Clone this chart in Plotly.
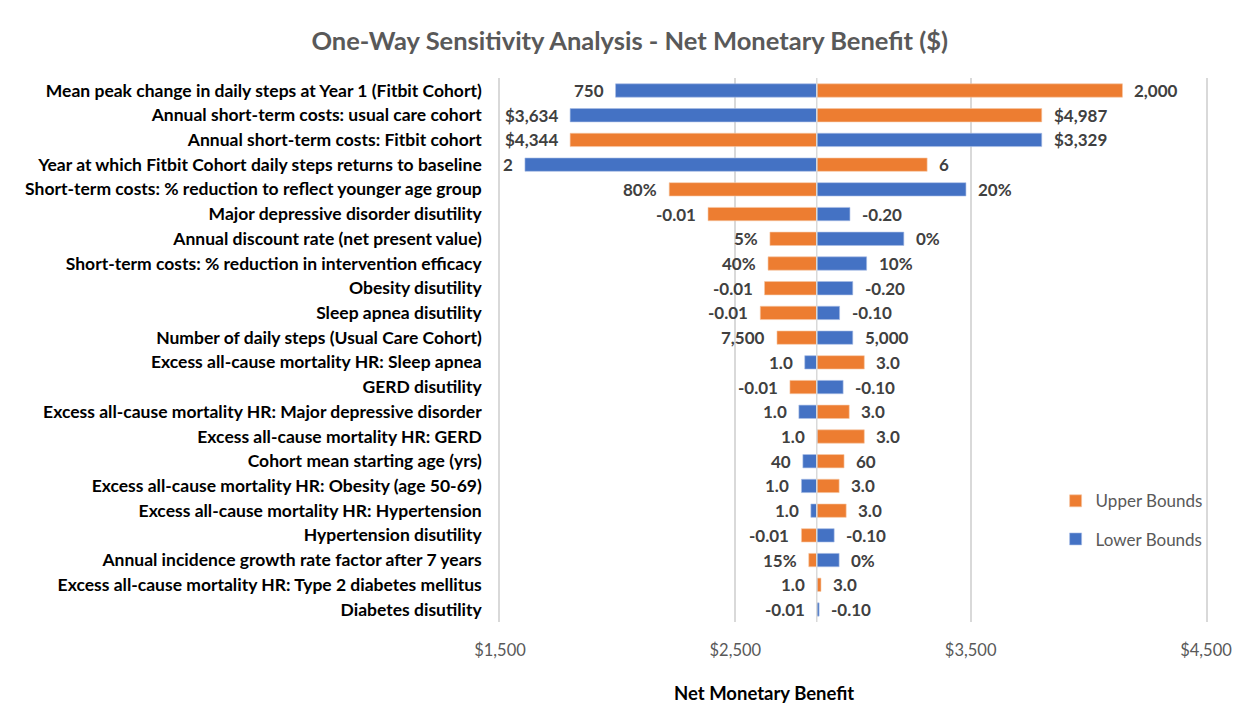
import plotly.graph_objects as go

BASE = 2846  # base-case net monetary benefit

params = [
    "Mean peak change in daily steps at Year 1 (Fitbit Cohort)",
    "Annual short-term costs: usual care cohort",
    "Annual short-term costs: Fitbit cohort",
    "Year at which Fitbit Cohort daily steps returns to baseline",
    "Short-term costs: % reduction to reflect younger age group",
    "Major depressive disorder disutility",
    "Annual discount rate (net present value)",
    "Short-term costs: % reduction in intervention efficacy",
    "Obesity disutility",
    "Sleep apnea disutility",
    "Number of daily steps (Usual Care Cohort)",
    "Excess all-cause mortality HR: Sleep apnea",
    "GERD disutility",
    "Excess all-cause mortality HR: Major depressive disorder",
    "Excess all-cause mortality HR: GERD",
    "Cohort mean starting age (yrs)",
    "Excess all-cause mortality HR: Obesity (age 50-69)",
    "Excess all-cause mortality HR: Hypertension",
    "Hypertension disutility",
    "Annual incidence growth rate factor after 7 years",
    "Excess all-cause mortality HR: Type 2 diabetes mellitus",
    "Diabetes disutility",
]

lower_nmb = [1991, 1798, 3802, 1606, 3480, 2987, 3216, 3058, 2999, 2943, 2999,
             2795, 2958, 2770, 2846, 2787, 2781, 2821, 2920, 2941, 2846, 2856]
upper_nmb = [4145, 3802, 1798, 3315, 2219, 2384, 2647, 2639, 2624, 2606, 2677,
             3048, 2732, 2984, 3048, 2962, 2941, 2971, 2781, 2812, 2864, 2846]

lower_lbl = ["750", "$3,634", "$3,329", "2", "20%", "-0.20", "0%", "10%", "-0.20", "-0.10", "5,000",
             "1.0", "-0.10", "1.0", "1.0", "40", "1.0", "1.0", "-0.10", "0%", "1.0", "-0.10"]
upper_lbl = ["2,000", "$4,987", "$4,344", "6", "80%", "-0.01", "5%", "40%", "-0.01", "-0.01", "7,500",
             "3.0", "-0.01", "3.0", "3.0", "60", "3.0", "3.0", "-0.01", "15%", "3.0", "-0.01"]

ORANGE = "#ED7D31"
BLUE = "#4472C4"
FONT = "Lato"
LBL_COLOR = "#404040"
GRID = "#D9D9D9"

fig = go.Figure()
fig.add_trace(go.Bar(
    y=params, x=[v - BASE for v in upper_nmb], base=BASE, orientation="h",
    name="Upper Bounds", marker=dict(color=ORANGE, line=dict(color="#F7C7A5", width=0.6)),
    width=0.54, legendgroup="u", hoverinfo="skip",
))
fig.add_trace(go.Bar(
    y=params, x=[v - BASE for v in lower_nmb], base=BASE, orientation="h",
    name="Lower Bounds", marker=dict(color=BLUE, line=dict(color="#A9BDE6", width=0.6)),
    width=0.54, legendgroup="l", hoverinfo="skip",
))

def side(v, other):
    if v < BASE:
        return -1
    if v > BASE:
        return 1
    return -1 if other > BASE else 1

annotations = []
for p, lo, up, ll, ul in zip(params, lower_nmb, upper_nmb, lower_lbl, upper_lbl):
    for v, o, t in ((lo, up, ll), (up, lo, ul)):
        s = side(v, o)
        annotations.append(dict(
            x=v, y=p, xref="x", yref="y", text=t, showarrow=False,
            xanchor="left" if s > 0 else "right", xshift=10 * s,
            font=dict(family=FONT, size=17, color=LBL_COLOR, weight="bold"),
        ))

annotations.append(dict(
    x=0.374, y=-0.13, xref="paper", yref="paper", text="<b>Net Monetary Benefit</b>",
    showarrow=False, xanchor="center", yanchor="middle",
    font=dict(family=FONT, size=18.5, color="#000000"),
))

fig.update_layout(
    width=1236, height=699,
    margin=dict(l=492, r=36, t=70, b=85),
    paper_bgcolor="white", plot_bgcolor="white",
    barmode="overlay",
    title=dict(
        text="<b>One-Way Sensitivity Analysis - Net Monetary Benefit ($)</b>",
        x=0.503, xref="container", xanchor="center", y=0.952, yanchor="middle",
        font=dict(family=FONT, size=25.5, color="#595959"),
    ),
    xaxis=dict(
        range=[1500, 4500], tick0=1500, dtick=1000, tickprefix="$", tickformat=",d",
        showgrid=True, gridcolor=GRID, gridwidth=1.5, zeroline=False,
        showline=False, ticks="", ticklabelstandoff=16,
        tickfont=dict(family=FONT, size=16.5, color="#595959"),
    ),
    yaxis=dict(
        autorange="reversed", showgrid=False, ticks="",
        showline=True, mirror=True, linecolor=GRID, linewidth=1.5,
        ticklabelstandoff=13,
        tickfont=dict(family=FONT, size=17.5, color="#000000", weight="bold"),
    ),
    legend=dict(
        x=0.787, y=0.255, xanchor="left", yanchor="top",
        traceorder="grouped", tracegroupgap=13,
        font=dict(family=FONT, size=17, color="#595959"),
        bgcolor="rgba(0,0,0,0)",
    ),
    shapes=[dict(
        type="line", xref="x", yref="paper", x0=BASE, x1=BASE, y0=0, y1=1,
        line=dict(color=GRID, width=1.5), layer="above",
    )],
    annotations=annotations,
)

fig.write_html("out.html")
